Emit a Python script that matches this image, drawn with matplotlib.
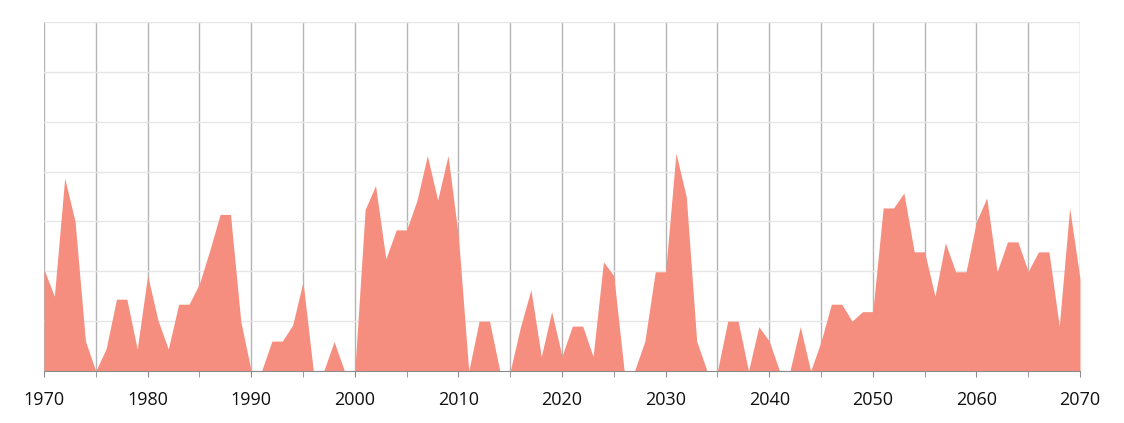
import numpy as np
import matplotlib
matplotlib.use("Agg")
import matplotlib.pyplot as plt

years = list(range(1970, 2071))
values = [
    2.04, 1.5, 3.87, 3.0, 0.6, 0.0, 0.45, 1.44, 1.44, 0.44,   # 1970-1979
    1.92, 1.02, 0.44, 1.34, 1.34, 1.75, 2.42, 3.14, 3.14, 0.99,  # 1980-1989
    0.0, 0.0, 0.6, 0.6, 0.92, 1.79, 0.0, 0.0, 0.59, 0.0,        # 1990-1999
    0.0, 3.24, 3.72, 2.25, 2.83, 2.83, 3.42, 4.32, 3.43, 4.32,  # 2000-2009
    2.7, 0.0, 1.0, 1.0, 0.0, 0.0, 0.89, 1.63, 0.29, 1.19,       # 2010-2019
    0.3, 0.9, 0.9, 0.29, 2.19, 1.91, 0.0, 0.0, 0.6, 1.99,       # 2020-2029
    1.99, 4.37, 3.49, 0.6, 0.0, 0.0, 1.0, 1.0, 0.0, 0.89,       # 2030-2039
    0.6, 0.0, 0.0, 0.89, 0.0, 0.59, 1.34, 1.34, 1.0, 1.19,      # 2040-2049
    1.19, 3.27, 3.27, 3.57, 2.39, 2.39, 1.5, 2.57, 1.99, 1.99,  # 2050-2059
    3.0, 3.47, 1.99, 2.59, 2.59, 2.0, 2.39, 2.39, 0.9, 3.27,    # 2060-2069
    1.85,                                                        # 2070
]
tick_years = list(range(1970, 2071, 10))

plt.rcParams['font.family'] = ['Open Sans', 'DejaVu Sans']

fig = plt.figure(figsize=(11.24, 4.23), dpi=100)
ax = fig.add_axes([44/1124, 52/423, 1036/1124, 349/423])

ax.fill_between(years, values, 0, color='#f68e80', linewidth=0, zorder=2)

ax.set_xlim(1970, 2070)
ax.set_ylim(0, 7)

ax.set_xticks(tick_years)
ax.set_xticks(range(1975, 2071, 10), minor=True)
ax.set_yticks(range(0, 8))
ax.set_yticklabels([])
ax.tick_params(axis='y', length=0)
ax.tick_params(axis='x', which='both', length=4.5, color='#8c8c8c',
               labelsize=13, labelcolor='#111111', pad=10)

ax.grid(axis='y', color='#e6e6e6', linewidth=1, zorder=0)
ax.grid(axis='x', which='both', color='#b4b4b4', linewidth=1, zorder=1)

for side in ['top', 'right', 'left']:
    ax.spines[side].set_visible(False)
ax.spines['bottom'].set_color('#8c8c8c')
ax.spines['bottom'].set_zorder(3)

fig.savefig("out.png", dpi=100)
